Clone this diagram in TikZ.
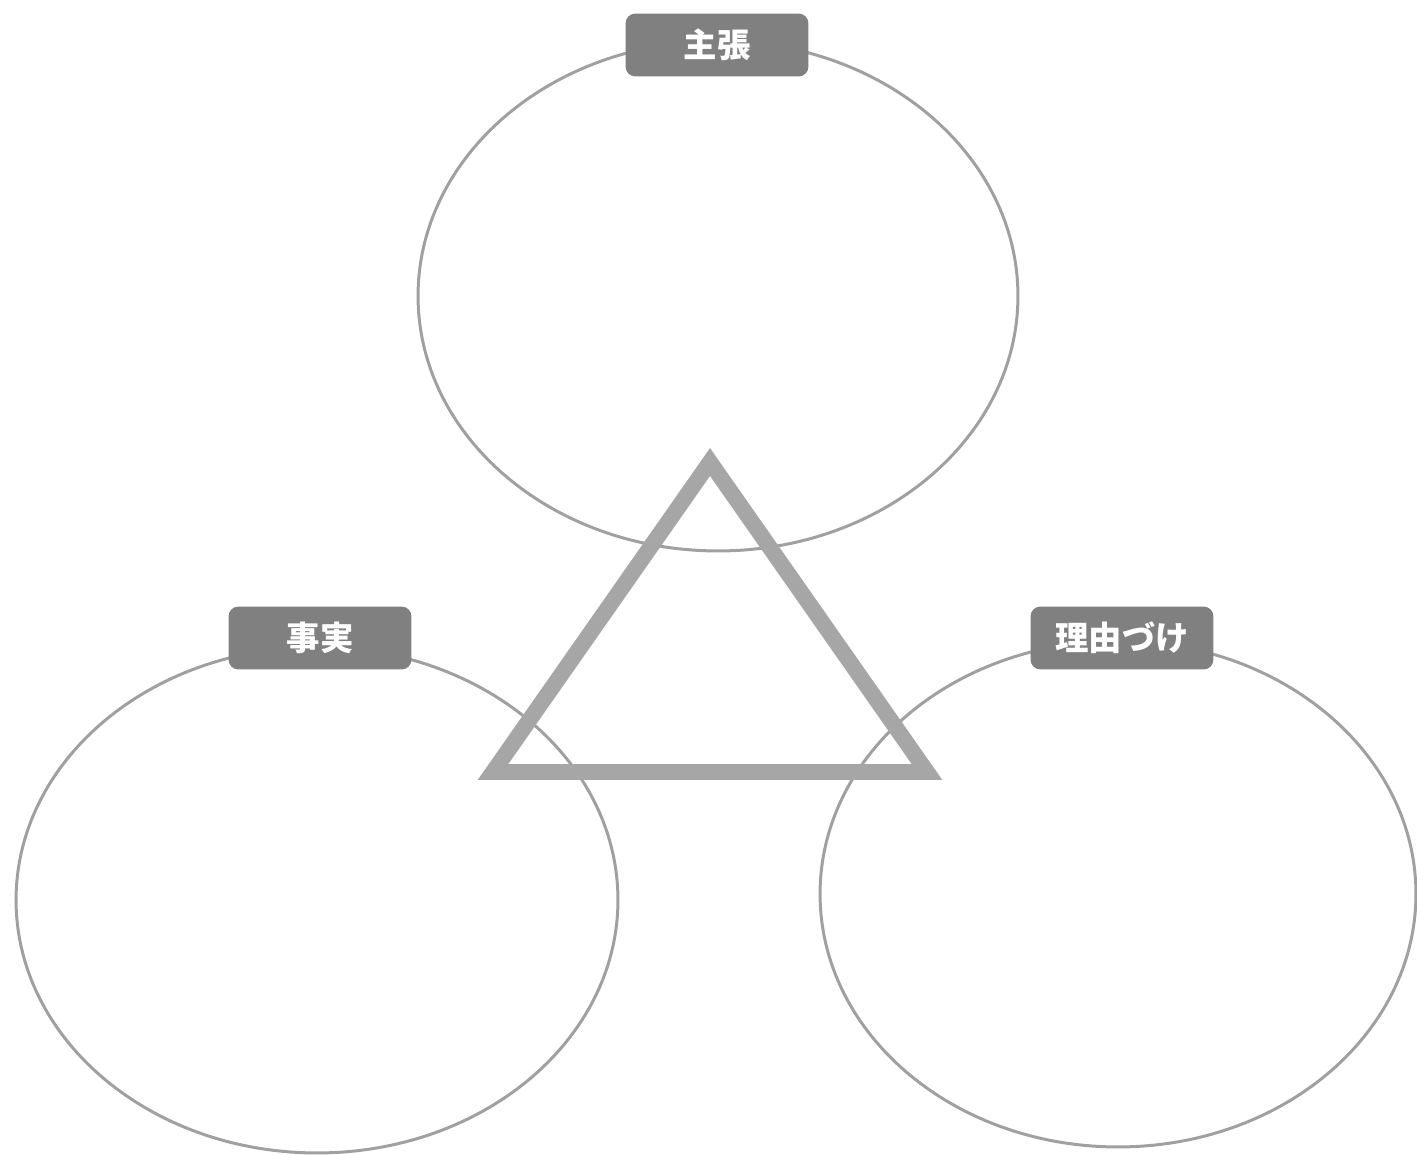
\documentclass[tikz,border=0pt]{standalone}
\usepackage{fontspec}
\usepackage{tikz}
\usetikzlibrary{shapes.geometric}
\newfontfamily\jpfont{Noto Sans CJK JP}
\definecolor{ringgray}{RGB}{160,160,160}
\definecolor{trigray}{RGB}{166,166,166}
\definecolor{tabgray}{RGB}{128,128,128}

\begin{document}
\begin{tikzpicture}[x=0.02cm,y=-0.02cm,
      ring/.style={draw=ringgray,line width=1.7pt,ellipse,inner sep=0pt},
      tab/.style={fill=tabgray,rounded corners=0.2cm,minimum width=3.66cm,
                  minimum height=1.26cm,text=white,inner sep=0pt,
                  font=\jpfont\bfseries\fontsize{19}{23}\selectfont}]
    \useasboundingbox (0,0) rectangle (1417,1155);
    % three circles
    \node[ring,minimum width=12cm,minimum height=10.2cm] (claim) at (718,296) {};
    \node[ring,minimum width=12.04cm,minimum height=10.12cm] (fact) at (317,900) {};
    \node[ring,minimum width=11.92cm,minimum height=10.12cm] (reason) at (1118,894) {};
    % triangle
    \coordinate (top) at (710,462);
    \coordinate (left) at (493,772);
    \coordinate (right) at (927,772);
    \draw[trigray,line width=9.1pt,miter limit=10] (top)--(left)--(right)--cycle;
    % labels
    \node[tab] (claimtab) at (717,45) {主張};
    \node[tab] (facttab) at (320,638) {事実};
    \node[tab] (reasontab) at (1122,638) {理由づけ};
\end{tikzpicture}
\end{document}
